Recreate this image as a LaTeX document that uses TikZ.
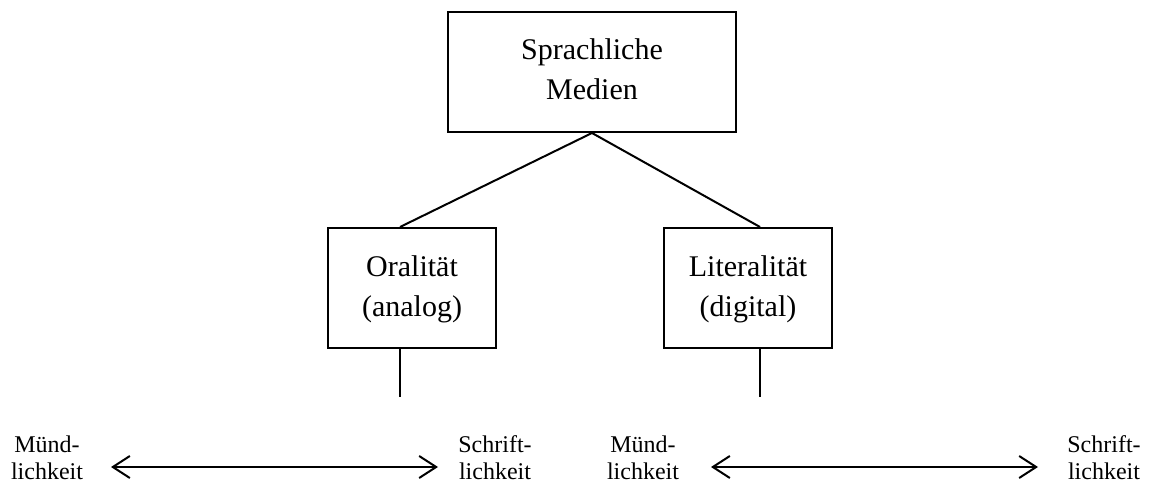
\documentclass[tikz,border=0pt]{standalone}
\usepackage{fontspec}
\setmainfont{Liberation Serif}
\usetikzlibrary{arrows.meta}

\begin{document}
\begin{tikzpicture}[x=1pt,y=-1pt,
  box/.style={draw, line width=2pt, align=center, inner sep=0pt,
    font=\fontsize{30}{40}\selectfont},
  endlabel/.style={align=center, inner sep=0pt,
    font=\fontsize{24}{27}\selectfont},
  link/.style={line width=2pt},
  spanarrow/.style={line width=2pt,
    {Straight Barb[length=17pt,width=22pt]}-{Straight Barb[length=17pt,width=22pt]}}
]
\useasboundingbox (0,0) rectangle (1158,486);

% hierarchy boxes
\node[box, minimum width=288pt, minimum height=120pt] (media) at (592,72)
  {\strut Sprachliche\\\strut Medien};
\node[box, minimum width=168pt, minimum height=120pt] (oral) at (412,288)
  {\strut Oralität\\\strut (analog)};
\node[box, minimum width=168pt, minimum height=120pt] (lit) at (748,288)
  {\strut Literalität\\\strut (digital)};

% stem ends below the two boxes
\coordinate (ostem) at (400,397);
\coordinate (lstem) at (760,397);

\draw[link] (media.south) -- (oral.north -| ostem);
\draw[link] (media.south) -- (lit.north -| lstem);
\draw[link] (oral.south -| ostem) -- (ostem);
\draw[link] (lit.south -| lstem) -- (lstem);

% scales between spoken and written language
\node[endlabel] (m1) at (47,461) {\strut Münd-\\\strut lichkeit};
\node[endlabel] (s1) at (495,461) {\strut Schrift-\\\strut lichkeit};
\node[endlabel] (m2) at (643,461) {\strut Münd-\\\strut lichkeit};
\node[endlabel] (s2) at (1104,461) {\strut Schrift-\\\strut lichkeit};

\coordinate (a1) at (111,467);
\coordinate (b1) at (438,467);
\coordinate (a2) at (711,467);
\coordinate (b2) at (1038,467);

\draw[spanarrow] (a1) -- (b1);
\draw[spanarrow] (a2) -- (b2);
\end{tikzpicture}
\end{document}
